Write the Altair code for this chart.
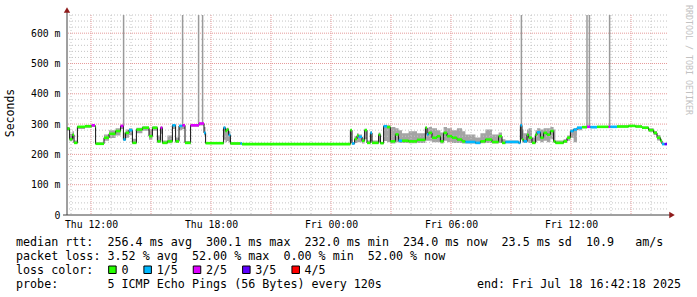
import altair as alt
import pandas as pd

# ---------------- data (hours since Thu 00:00, values in ms) ----------------
T0, T1 = 10.8, 40.8
YMAX = 660

t = [10.80, 10.93, 11.07, 11.15, 11.32, 11.70, 12.03, 12.20, 12.23, 12.65,
     12.90, 13.23, 13.48, 13.62, 13.73, 13.90, 14.07, 14.27, 14.57, 14.90,
     15.07, 15.32, 15.48, 15.57, 15.82, 16.07, 16.23, 16.40, 16.57, 16.70,
     16.98, 17.40, 17.65, 17.73, 18.63, 18.72, 18.80, 18.88, 18.97, 19.47,
     19.55, 24.97, 25.05, 25.18, 25.30, 25.38, 25.55, 25.68, 25.80, 25.97,
     26.05, 26.38, 26.47, 26.63, 26.80, 26.97, 27.22, 27.38, 27.55, 27.88,
     28.30, 28.72, 28.80, 28.88, 29.05, 29.30, 29.47, 29.63, 29.80, 30.05,
     30.30, 30.55, 30.72, 31.22, 31.47, 31.72, 32.05, 32.38, 32.55, 32.72,
     33.38, 33.47, 33.55, 33.63, 33.80, 33.88, 34.05, 34.22, 34.30, 34.47,
     34.63, 34.80, 34.97, 35.13, 35.22, 35.63, 35.80, 35.97, 36.13, 36.30,
     36.55, 36.80, 36.97, 37.30, 37.88, 37.97, 38.30, 38.88, 39.22, 39.55,
     39.88, 40.13, 40.30, 40.47, 40.55, 40.68]
med = [285, 250, 265, 238, 291, 293, 296, 292, 235, 255,
       268, 277, 294, 249, 271, 280, 238, 282, 288, 260,
       288, 243, 288, 238, 243, 296, 243, 294, 296, 238,
       296, 302, 271, 237, 288, 277, 282, 264, 236, 236,
       234, 280, 236, 251, 262, 258, 245, 280, 238, 271,
       238, 265, 237, 293, 290, 243, 266, 245, 245, 243,
       248, 288, 266, 271, 255, 260, 243, 271, 260, 255,
       249, 243, 241, 238, 243, 249, 241, 260, 238, 241,
       238, 296, 249, 243, 265, 255, 238, 265, 273, 255,
       271, 265, 277, 243, 238, 243, 255, 277, 282, 288,
       290, 291, 290, 291, 291, 291, 292, 294, 292, 288,
       280, 271, 255, 245, 234, 234]
lo = [278, 244, 252, 234, 284, 288, 290, 280, 232, 245,
      254, 262, 284, 244, 255, 264, 234, 270, 278, 248,
      278, 238, 268, 234, 237, 284, 238, 280, 284, 234,
      291, 295, 262, 234, 248, 240, 244, 240, 233, 233,
      231, 238, 233, 238, 240, 240, 236, 250, 235, 244,
      235, 240, 234, 244, 240, 236, 240, 238, 238, 237,
      238, 245, 245, 245, 240, 240, 236, 245, 240, 238,
      238, 236, 236, 235, 237, 238, 236, 238, 235, 237,
      235, 250, 240, 238, 240, 238, 235, 240, 245, 240,
      245, 240, 250, 238, 235, 238, 245, 255, 240, 280,
      286, 288, 286, 288, 288, 288, 289, 291, 289, 284,
      275, 264, 246, 239, 232, 232]
hi = [290, 268, 276, 246, 294, 295, 298, 296, 240, 266,
      280, 286, 298, 272, 282, 286, 252, 288, 292, 282,
      292, 262, 292, 246, 262, 298, 256, 297, 298, 244,
      299, 304, 290, 240, 292, 286, 288, 276, 240, 240,
      237, 283, 240, 260, 270, 266, 256, 285, 246, 276,
      246, 272, 241, 296, 296, 290, 286, 280, 270, 276,
      270, 292, 286, 290, 286, 280, 272, 290, 286, 280,
      286, 276, 266, 256, 270, 282, 266, 272, 250, 246,
      242, 300, 282, 270, 282, 286, 256, 280, 286, 282,
      286, 286, 290, 282, 246, 250, 262, 282, 286, 291,
      293, 294, 293, 294, 294, 294, 295, 297, 295, 292,
      286, 277, 264, 252, 237, 237]
loss = [0, 0, 0, 0, 0, 0, 2, 0, 0, 0,
        0, 0, 2, 1, 0, 1, 0, 0, 0, 0,
        0, 0, 2, 0, 0, 1, 0, 1, 2, 0,
        2, 2, 1, 0, 1, 0, 0, 1, 0, 1,
        0, 0, 1, 0, 0, 1, 0, 0, 0, 1,
        0, 0, 0, 1, 0, 0, 0, 1, 0, 0,
        0, 0, 1, 0, 0, 0, 0, 0, 0, 0,
        0, 0, 1, 1, 0, 0, 0, 0, 0, 1,
        1, 1, 0, 1, 0, 0, 0, 0, 1, 0,
        0, 0, 0, 0, 0, 0, 0, 1, 1, 1,
        0, 2, 1, 0, 2, 1, 0, 0, 0, 0,
        0, 0, 0, 0, 1, 3]

spike_t = [13.63, 16.58, 17.38, 17.58, 33.52, 36.80, 36.92, 37.93]
spike_lo = [294, 296, 297, 302, 296, 291, 291, 291]

x_ticks = [12, 18, 24, 30, 36]
y_ticks = [0, 100, 200, 300, 400, 500, 600]
loss_labels = ["0", "1/5", "2/5", "3/5", "4/5"]
loss_colors = ["#26ff00", "#00b8ff", "#dd00ff", "#5e00ff", "#ff0000"]

legend_lines = [
    "median rtt:  256.4 ms avg  300.1 ms max  232.0 ms min  234.0 ms now  23.5 ms sd  10.9   am/s",
    "packet loss: 3.52 % avg  52.00 % max  0.00 % min  52.00 % now",
    "loss color:    0    1/5    2/5    3/5    4/5",
    "probe:       5 ICMP Echo Pings (56 Bytes) every 120s",
]
end_text = "end: Fri Jul 18 16:42:18 2025"
watermark = "RRDTOOL / TOBI OETIKER"
y_title = "Seconds"

NBSP = "\u00a0"

# ---------------- tables ----------------
steps = pd.DataFrame({"t": t, "t2": t[1:] + [T1], "med": med, "lo": lo, "hi": hi, "loss": loss})
line_df = pd.concat([steps, pd.DataFrame({"t": [T1], "med": [med[-1]], "lo": [lo[-1]], "hi": [hi[-1]]})],
                    ignore_index=True)
spikes = pd.DataFrame({"t": spike_t, "lo": spike_lo, "hi": [YMAX] * len(spike_t)})
minor_x = pd.DataFrame({"h": [h for h in range(11, 41) if h % 3]})
major_x = pd.DataFrame({"h": [h for h in range(12, 41, 3)]})
minor_y = pd.DataFrame({"v": [v for v in range(20, YMAX + 1, 20) if v % 100]})
major_y = pd.DataFrame({"v": [v for v in range(100, YMAX + 1, 100)]})
one = pd.DataFrame({"k": [0]})

MONO = "DejaVu Sans Mono"
LEFT, TOP = 67, 15
CW = 7.05  # legend character width

xs = alt.Scale(domain=[T0, T1], nice=False, zero=False)
ys = alt.Scale(domain=[0, YMAX], nice=False)

x_lbl = ("(datum.value < 24 ? 'Thu ' : 'Fri ') + (datum.value % 24 < 10 ? '0' : '')"
         " + (datum.value % 24) + ':00'")
y_lbl = "datum.value == 0 ? '0' : datum.value + ' m'"

x_axis = alt.Axis(values=x_ticks, labelExpr=x_lbl, title=None, grid=False, domain=False,
                  ticks=False, labelPadding=4, labelFont=MONO, labelFontSize=9.8,
                  labelColor="#000000", labelFlush=False, labelOverlap=False)
y_axis = alt.Axis(values=y_ticks, labelExpr=y_lbl, title=None, grid=False, domain=False,
                  ticks=False, labelPadding=7, labelFont=MONO, labelFontSize=9.8,
                  labelColor="#000000", labelFlush=False, labelOverlap=False)

smoke = alt.Chart(line_df).mark_area(interpolate="step-after", color="#a4a4a4").encode(
    x=alt.X("t:Q", scale=xs, axis=x_axis),
    y=alt.Y("lo:Q", scale=ys, axis=y_axis),
    y2="hi:Q",
)

grid_minor_x = alt.Chart(minor_x).mark_rule(color="#c4c4c4", strokeDash=[1, 2], strokeWidth=1).encode(
    x=alt.X("h:Q", scale=xs, axis=x_axis))
grid_major_x = alt.Chart(major_x).mark_rule(color="#e69a9a", strokeDash=[1, 1], strokeWidth=1).encode(
    x=alt.X("h:Q", scale=xs, axis=x_axis))
grid_minor_y = alt.Chart(minor_y).mark_rule(color="#c4c4c4", strokeDash=[1, 2], strokeWidth=1).encode(
    y=alt.Y("v:Q", scale=ys, axis=y_axis))
grid_major_y = alt.Chart(major_y).mark_rule(color="#e69a9a", strokeDash=[1, 1], strokeWidth=1).encode(
    y=alt.Y("v:Q", scale=ys, axis=y_axis))

spike_layer = alt.Chart(spikes).mark_rule(color="#9a9a9a", strokeWidth=1.5).encode(
    x=alt.X("t:Q", scale=xs, axis=x_axis), y=alt.Y("lo:Q", scale=ys, axis=y_axis), y2="hi:Q")

median_line = alt.Chart(line_df).mark_line(interpolate="step-after", color="#111111", strokeWidth=1).encode(
    x=alt.X("t:Q", scale=xs, axis=x_axis), y=alt.Y("med:Q", scale=ys, axis=y_axis))

loss_segs = alt.Chart(steps).mark_rule(strokeWidth=2.6, strokeCap="butt").encode(
    x=alt.X("t:Q", scale=xs, axis=x_axis), x2="t2:Q", y=alt.Y("med:Q", scale=ys, axis=y_axis),
    color=alt.Color("loss:O", scale=alt.Scale(domain=[0, 1, 2, 3, 4], range=loss_colors), legend=None))

axis_v = alt.Chart(pd.DataFrame({"x": [T0], "y": [0], "y2": [YMAX]})).mark_rule(
    color="#404040", y2Offset=-5).encode(x=alt.X("x:Q", scale=xs, axis=x_axis),
                                         y=alt.Y("y:Q", scale=ys, axis=y_axis), y2="y2:Q")
axis_h = alt.Chart(pd.DataFrame({"x": [T0], "x2": [T1], "y": [0]})).mark_rule(
    color="#404040", xOffset=-4, x2Offset=3).encode(x=alt.X("x:Q", scale=xs, axis=x_axis), x2="x2:Q",
                                                    y=alt.Y("y:Q", scale=ys, axis=y_axis))
arrow_up = alt.Chart(pd.DataFrame({"x": [T0], "y": [YMAX]})).mark_point(
    shape="triangle-up", filled=True, size=40, color="#8f1b1b", opacity=1, yOffset=-5).encode(
    x=alt.X("x:Q", scale=xs, axis=x_axis), y=alt.Y("y:Q", scale=ys, axis=y_axis))
arrow_right = alt.Chart(pd.DataFrame({"x": [T1], "y": [0]})).mark_point(
    shape="triangle-right", filled=True, size=40, color="#8f1b1b", opacity=1, xOffset=5).encode(
    x=alt.X("x:Q", scale=xs, axis=x_axis), y=alt.Y("y:Q", scale=ys, axis=y_axis))

texts = []
for i, line in enumerate(legend_lines):
    texts.append(alt.Chart(one).mark_text(font=MONO, fontSize=11.7, align="left", baseline="alphabetic",
                                          color="#000000").encode(
        text=alt.value(line.replace(" ", NBSP)), x=alt.value(16 - LEFT), y=alt.value(246 - TOP + 14 * i)))
texts.append(alt.Chart(one).mark_text(font=MONO, fontSize=11.7, align="right", baseline="alphabetic",
                                      color="#000000").encode(
    text=alt.value(end_text.replace(" ", NBSP)), x=alt.value(681 - LEFT), y=alt.value(288 - TOP)))
texts.append(alt.Chart(one).mark_text(font=MONO, fontSize=11.5, align="center", baseline="middle",
                                      angle=270, color="#000000").encode(
    text=alt.value(y_title), x=alt.value(11 - LEFT), y=alt.value(113 - TOP)))
texts.append(alt.Chart(one).mark_text(font=MONO, fontSize=8.3, align="center", baseline="middle",
                                      angle=90, color="#c2c2c2").encode(
    text=alt.value(watermark.replace(" ", NBSP)), x=alt.value(688 - LEFT), y=alt.value(60 - TOP)))

boxes = []
for k, idx in enumerate([13, 18, 25, 32, 39]):
    bx = 16 - LEFT + idx * CW + 1
    boxes.append(alt.Chart(one).mark_rect(fill=loss_colors[k], stroke="#000000", strokeWidth=1).encode(
        x=alt.value(bx), x2=alt.value(bx + 7.5), y=alt.value(266 - TOP), y2=alt.value(273.5 - TOP)))

chart = alt.layer(
    smoke, grid_minor_x, grid_minor_y, grid_major_x, grid_major_y,
    spike_layer, median_line, loss_segs,
    axis_v, axis_h, arrow_up, arrow_right,
    *texts, *boxes,
).properties(
    width=600, height=200,
    autosize=alt.AutoSizeParams(type="none"),
    padding={"left": LEFT, "top": TOP, "right": 697 - LEFT - 600, "bottom": 297 - TOP - 200},
    background="#ffffff",
).configure_view(stroke=None).configure_axis(labelOverlap=False, labelBound=False)

chart.save("out.html", embed_options={"renderer": "svg", "actions": False})
